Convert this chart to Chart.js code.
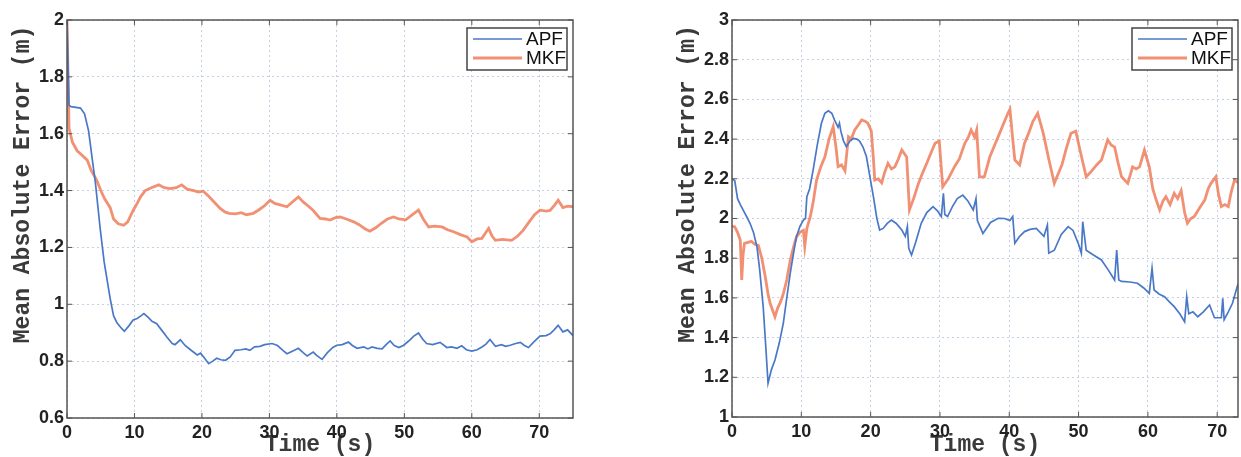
<!DOCTYPE html>
<html>
<head>
<meta charset="utf-8">
<script src="https://cdn.jsdelivr.net/npm/chart.js@4"></script>
<style>
  body { margin: 0; background: #fff; }
  .wrap { position: absolute; top: 0; }
</style>
</head>
<body>
<div class="wrap" style="left:0"><canvas id="left-chart" width="620" height="457"></canvas></div>
<div class="wrap" style="left:620px"><canvas id="right-chart" width="621" height="457"></canvas></div>
<script>
// series names
const seriesLabels = ["APF", "MKF"];

// tick values
const xTicks = [0, 10, 20, 30, 40, 50, 60, 70];
const yTicksLeft = [0.6, 0.8, 1, 1.2, 1.4, 1.6, 1.8, 2];
const yTicksRight = [1, 1.2, 1.4, 1.6, 1.8, 2, 2.2, 2.4, 2.6, 2.8, 3];

// left panel - APF
const apfLeftT = [0, 0.3, 0.6, 2.0, 2.6, 3.2, 3.8, 4.2, 4.9, 5.5, 6.4, 6.9, 7.4, 8.1, 8.5, 9.2, 9.8, 10.4, 11.0, 11.4,
  12.0, 12.6, 13.3, 14.0, 14.8, 15.6, 16.0, 16.8, 17.5, 18.3, 19.3, 19.8, 20.4, 21.0, 21.6, 22.2, 22.8, 23.5, 24.2, 24.9,
  25.8, 26.5, 27.1, 27.8, 28.6, 29.3, 30.4, 31.2, 32.0, 32.6, 33.4, 34.3, 35.0, 35.6, 36.5, 37.0, 37.8, 38.6, 39.4, 40.0,
  40.8, 41.7, 42.3, 43.0, 44.0, 44.6, 45.2, 46.0, 46.7, 47.3, 47.9, 48.5, 49.2, 49.9, 50.6, 51.4, 52.1, 52.7, 53.3, 54.2,
  55.3, 56.3, 57.0, 57.8, 58.5, 59.2, 60.0, 60.8, 61.5, 62.1, 62.7, 63.5, 64.4, 65.0, 65.7, 66.5, 67.2, 67.8, 68.4, 69.2,
  70.1, 71.0, 71.6, 72.2, 72.8, 73.5, 74.2, 75];
const apfLeftY = [2.0, 1.70, 1.695, 1.69, 1.67, 1.61, 1.50, 1.43, 1.27, 1.15, 1.02, 0.96, 0.935, 0.915, 0.905, 0.925, 0.945, 0.95, 0.96, 0.967,
  0.955, 0.94, 0.932, 0.91, 0.885, 0.862, 0.858, 0.875, 0.855, 0.84, 0.822, 0.828, 0.81, 0.791, 0.80, 0.81, 0.805, 0.803, 0.815, 0.838,
  0.84, 0.843, 0.838, 0.85, 0.852, 0.858, 0.862, 0.855, 0.838, 0.826, 0.835, 0.845, 0.83, 0.818, 0.832, 0.82, 0.806, 0.83, 0.848, 0.856,
  0.858, 0.867, 0.855, 0.845, 0.85, 0.843, 0.85, 0.845, 0.843, 0.858, 0.871, 0.855, 0.848, 0.856, 0.87, 0.888, 0.899, 0.878, 0.862, 0.858,
  0.866, 0.848, 0.85, 0.845, 0.854, 0.84, 0.835, 0.84, 0.85, 0.86, 0.876, 0.852, 0.858, 0.852, 0.856, 0.862, 0.866, 0.855, 0.848, 0.868,
  0.888, 0.89, 0.896, 0.91, 0.926, 0.903, 0.91, 0.89];

// left panel - MKF
const mkfLeftT = [0, 0.3, 0.8, 1.5, 2.2, 3.0, 3.6, 4.4, 5.0, 5.6, 6.4, 6.9, 7.6, 8.4, 9.0, 9.8, 10.4, 10.9, 11.6, 12.5,
  13.6, 14.4, 15.3, 16.2, 17.0, 17.8, 18.8, 19.5, 20.2, 21.0, 21.8, 22.7, 23.4, 24.0, 25.0, 25.8, 26.6, 27.6, 28.3, 29.2,
  30.1, 30.8, 31.6, 32.6, 33.4, 34.3, 35.0, 35.8, 36.5, 37.5, 38.3, 39.0, 39.8, 40.5, 41.4, 42.5, 43.3, 44.2, 44.9, 45.8,
  46.6, 47.5, 48.4, 49.2, 50.2, 51.2, 52.1, 52.8, 53.6, 54.5, 55.6, 56.4, 57.3, 58.3, 59.3, 60.0, 60.8, 61.5, 62.0, 62.5,
  63.0, 63.5, 64.5, 65.9, 66.8, 67.6, 68.5, 69.3, 70.1, 71.0, 71.6, 72.3, 72.8, 73.5, 74.2, 75];
const mkfLeftY = [2.0, 1.62, 1.57, 1.54, 1.525, 1.507, 1.47, 1.437, 1.40, 1.37, 1.34, 1.30, 1.283, 1.278, 1.29, 1.33, 1.355, 1.378, 1.40, 1.41,
  1.42, 1.41, 1.407, 1.41, 1.42, 1.405, 1.40, 1.395, 1.398, 1.38, 1.36, 1.337, 1.325, 1.32, 1.318, 1.322, 1.315, 1.32, 1.33, 1.345,
  1.366, 1.355, 1.35, 1.343, 1.36, 1.378, 1.36, 1.345, 1.33, 1.302, 1.30, 1.296, 1.305, 1.307, 1.30, 1.29, 1.28, 1.265, 1.257, 1.27,
  1.285, 1.30, 1.307, 1.30, 1.297, 1.315, 1.331, 1.30, 1.272, 1.275, 1.272, 1.262, 1.255, 1.245, 1.237, 1.22, 1.23, 1.232, 1.25, 1.267,
  1.24, 1.225, 1.228, 1.225, 1.24, 1.26, 1.29, 1.315, 1.331, 1.328, 1.33, 1.35, 1.366, 1.34, 1.345, 1.343];

// right panel - APF
const apfRightT = [0, 0.4, 0.8, 1.2, 1.6, 2.1, 2.6, 3.1, 3.6, 4.0, 4.5, 4.9, 5.2, 5.7, 6.2, 6.8, 7.4, 7.9, 8.4, 8.9,
  9.3, 9.8, 10.3, 10.6, 10.8, 11.2, 11.7, 12.3, 12.9, 13.4, 13.9, 14.4, 14.8, 15.3, 15.5, 15.7, 16.1, 16.5, 17.0, 17.5,
  18.0, 18.4, 18.9, 19.4, 19.9, 20.4, 20.9, 21.3, 21.8, 22.4, 23.0, 23.7, 24.5, 25.0, 25.3, 25.5, 25.9, 26.5, 27.3, 28.1,
  29.0, 29.6, 30.2, 30.5, 30.7, 31.1, 31.8, 32.5, 33.3, 34.0, 34.8, 35.2, 35.4, 36.2, 37.3, 38.4, 39.3, 40.1, 40.5, 40.8,
  41.5, 42.2, 43.0, 43.9, 45.0, 45.5, 45.7, 46.5, 47.5, 48.5, 49.2, 50.0, 50.4, 50.6, 51.1, 52.2, 53.3, 54.3, 55.2, 55.5,
  55.8, 56.2, 57.4, 58.5, 59.4, 60.2, 60.6, 60.9, 61.6, 62.4, 63.1, 63.8, 64.6, 65.3, 65.6, 65.9, 66.5, 67.2, 68.0, 68.9,
  69.6, 70.6, 70.8, 71.0, 71.6, 72.2, 73.0];
const apfRightY = [2.20, 2.19, 2.10, 2.07, 2.043, 2.01, 1.976, 1.93, 1.858, 1.74, 1.556, 1.34, 1.17, 1.24, 1.287, 1.37, 1.472, 1.60, 1.724, 1.83,
  1.908, 1.96, 1.992, 2.0, 2.11, 2.15, 2.244, 2.37, 2.48, 2.53, 2.543, 2.53, 2.496, 2.46, 2.48, 2.44, 2.39, 2.362, 2.39, 2.404,
  2.40, 2.39, 2.36, 2.311, 2.21, 2.11, 2.00, 1.942, 1.95, 1.975, 1.992, 1.975, 1.942, 1.91, 1.96, 1.85, 1.816, 1.88, 1.976, 2.03,
  2.06, 2.04, 2.01, 2.127, 2.02, 2.01, 2.06, 2.10, 2.118, 2.09, 2.043, 2.10, 1.99, 1.925, 1.98, 2.001, 2.0, 1.99, 2.01, 1.875,
  1.91, 1.934, 1.945, 1.95, 1.91, 1.967, 1.825, 1.84, 1.92, 1.959, 1.94, 1.87, 1.825, 1.984, 1.84, 1.815, 1.791, 1.74, 1.69, 1.841,
  1.69, 1.683, 1.68, 1.674, 1.65, 1.623, 1.749, 1.64, 1.62, 1.606, 1.58, 1.556, 1.52, 1.48, 1.606, 1.52, 1.53, 1.505, 1.53, 1.564,
  1.50, 1.50, 1.598, 1.49, 1.53, 1.573, 1.67];

// right panel - MKF
const mkfRightT = [0, 0.4, 0.8, 1.2, 1.4, 1.6, 1.8, 2.3, 2.8, 3.3, 3.8, 4.3, 4.8, 5.2, 5.5, 6.2, 6.6, 7.0, 7.4, 7.9,
  8.4, 8.9, 9.3, 9.8, 10.3, 10.5, 10.8, 11.3, 11.7, 12.2, 12.8, 13.4, 14.0, 14.6, 15.0, 15.3, 15.8, 16.3, 16.8, 17.2,
  17.7, 18.2, 18.7, 19.2, 19.6, 20.1, 20.4, 20.6, 21.1, 21.6, 22.0, 22.5, 23.0, 23.5, 24.0, 24.5, 25.2, 25.6, 26.2, 26.9,
  27.5, 28.1, 28.7, 29.3, 29.9, 30.4, 31.2, 32.1, 32.8, 33.6, 34.1, 34.5, 35.0, 35.3, 35.7, 36.4, 37.2, 37.9, 38.6, 39.2,
  39.8, 40.1, 40.5, 40.8, 41.5, 42.2, 42.8, 43.4, 44.1, 44.5, 44.9, 45.7, 46.5, 47.0, 47.6, 48.2, 48.9, 49.6, 50.3, 51.1,
  51.9, 52.6, 53.3, 53.8, 54.2, 54.7, 55.2, 55.7, 56.2, 57.1, 57.8, 58.3, 58.8, 59.5, 60.2, 60.7, 61.2, 61.7, 62.2, 62.6,
  63.2, 63.8, 64.3, 64.8, 65.3, 65.7, 66.2, 66.7, 67.4, 68.2, 68.7, 69.1, 69.8, 70.2, 70.6, 71.1, 71.6, 72.0, 72.5, 73.0];
const mkfRightY = [1.96, 1.958, 1.93, 1.89, 1.69, 1.82, 1.875, 1.88, 1.885, 1.87, 1.865, 1.80, 1.707, 1.62, 1.573, 1.505, 1.55, 1.58, 1.62, 1.69,
  1.79, 1.86, 1.908, 1.93, 1.94, 1.86, 1.95, 2.01, 2.08, 2.194, 2.26, 2.311, 2.40, 2.463, 2.36, 2.261, 2.27, 2.24, 2.412, 2.40,
  2.446, 2.47, 2.496, 2.49, 2.48, 2.44, 2.30, 2.194, 2.20, 2.18, 2.23, 2.278, 2.25, 2.26, 2.30, 2.345, 2.31, 2.043, 2.10, 2.177,
  2.23, 2.278, 2.33, 2.379, 2.39, 2.16, 2.20, 2.261, 2.30, 2.38, 2.41, 2.446, 2.41, 2.446, 2.21, 2.21, 2.311, 2.37, 2.429, 2.48,
  2.53, 2.55, 2.40, 2.295, 2.27, 2.379, 2.43, 2.488, 2.53, 2.48, 2.43, 2.30, 2.177, 2.22, 2.27, 2.35, 2.429, 2.44, 2.33, 2.21,
  2.24, 2.27, 2.295, 2.35, 2.396, 2.37, 2.36, 2.28, 2.21, 2.177, 2.26, 2.25, 2.26, 2.345, 2.26, 2.15, 2.093, 2.043, 2.09, 2.11,
  2.07, 2.127, 2.10, 2.14, 2.03, 1.976, 2.00, 2.01, 2.05, 2.093, 2.15, 2.177, 2.21, 2.12, 2.06, 2.07, 2.06, 2.13, 2.194, 2.18];

const apfColor = "#4a78c8";
const mkfColor = "rgba(239,125,90,0.85)";

function toPoints(ts, ys) {
  return ts.map((t, i) => ({ x: t, y: ys[i] }));
}

// MATLAB-like frame, inward ticks and boxed legend
const matlabFramePlugin = {
  id: "matlabFrame",
  afterDraw(chart) {
    const { ctx, chartArea: { left, top, right, bottom }, scales } = chart;
    ctx.save();
    ctx.strokeStyle = "#555";
    ctx.lineWidth = 1.5;
    ctx.strokeRect(left, top, right - left, bottom - top);

    ctx.lineWidth = 1;
    ctx.beginPath();
    scales.x.ticks.forEach((tk) => {
      const px = scales.x.getPixelForValue(tk.value);
      ctx.moveTo(px, bottom); ctx.lineTo(px, bottom - 5);
      ctx.moveTo(px, top); ctx.lineTo(px, top + 5);
    });
    scales.y.ticks.forEach((tk) => {
      const py = scales.y.getPixelForValue(tk.value);
      ctx.moveTo(left, py); ctx.lineTo(left + 5, py);
      ctx.moveTo(right, py); ctx.lineTo(right - 5, py);
    });
    ctx.stroke();

    // legend
    const bw = 100, bh = 42;
    const bx = right - 6 - bw, by = top + 8;
    ctx.fillStyle = "#fff";
    ctx.fillRect(bx, by, bw, bh);
    ctx.strokeStyle = "#444";
    ctx.lineWidth = 1.5;
    ctx.strokeRect(bx, by, bw, bh);
    ctx.font = "19px 'Liberation Sans', Arial, sans-serif";
    ctx.textBaseline = "middle";
    ctx.textAlign = "left";
    chart.data.datasets.forEach((ds, i) => {
      const ly = by + 11 + i * 19;
      ctx.strokeStyle = ds.borderColor;
      ctx.lineWidth = ds.borderWidth;
      ctx.beginPath();
      ctx.moveTo(bx + 6, ly);
      ctx.lineTo(bx + 55, ly);
      ctx.stroke();
      ctx.fillStyle = "#111";
      ctx.fillText(ds.label, bx + 59, ly + 1);
    });
    ctx.restore();
  },
};

function makeChart(id, apf, mkf, xMax, yTicks, padLeft, padRight, xHeight) {
  const tickFont = { family: "'Liberation Sans', Arial, sans-serif", size: 18, weight: "bold" };
  const titleFont = { family: "'Liberation Mono', monospace", size: 23, weight: "bold", lineHeight: 1 };
  return new Chart(document.getElementById(id), {
    type: "line",
    data: {
      datasets: [
        { label: seriesLabels[0], data: apf, borderColor: apfColor, borderWidth: 1.7 },
        { label: seriesLabels[1], data: mkf, borderColor: mkfColor, borderWidth: 2.8 },
      ],
    },
    options: {
      responsive: false,
      animation: false,
      layout: { padding: { left: padLeft, right: padRight, top: 20, bottom: 0 } },
      elements: { point: { radius: 0 }, line: { tension: 0 } },
      plugins: { legend: { display: false }, tooltip: { enabled: false } },
      scales: {
        x: {
          type: "linear",
          min: 0,
          max: xMax,
          afterBuildTicks(scale) { scale.ticks = xTicks.map((v) => ({ value: v })); },
          afterFit(scale) { scale.height = xHeight; },
          grid: { color: "rgba(150,170,205,0.55)", drawTicks: false },
          border: { display: false, dash: [2, 3] },
          ticks: { font: tickFont, color: "#222", padding: 4 },
          title: { display: true, text: "Time (s)", font: titleFont, color: "#3a3a3a", padding: { top: 0, bottom: 0 } },
        },
        y: {
          min: yTicks[0],
          max: yTicks[yTicks.length - 1],
          afterBuildTicks(scale) { scale.ticks = yTicks.map((v) => ({ value: v })); },
          afterFit(scale) { scale.width = 67; },
          grid: { color: "rgba(150,170,205,0.55)", drawTicks: false },
          border: { display: false, dash: [2, 3] },
          ticks: {
            font: tickFont,
            color: "#222",
            padding: 3,
            callback: (v) => String(+Number(v).toFixed(1)),
          },
          title: {
            display: true,
            text: "     Mean Absolute Error (m)",
            font: titleFont,
            color: "#3a3a3a",
            padding: { top: 12, bottom: 0 },
          },
        },
      },
    },
    plugins: [matlabFramePlugin],
  });
}

makeChart("left-chart", toPoints(apfLeftT, apfLeftY), toPoints(mkfLeftT, mkfLeftY), 75, yTicksLeft, 0, 47, 39);
makeChart("right-chart", toPoints(apfRightT, apfRightY), toPoints(mkfRightT, mkfRightY), 73, yTicksRight, 45, 3, 40);
</script>
</body>
</html>
